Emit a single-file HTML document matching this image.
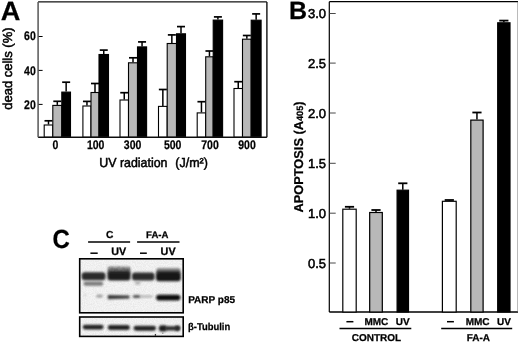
<!DOCTYPE html>
<html><head><meta charset="utf-8"><style>
html,body{margin:0;padding:0;background:#fff;width:520px;height:342px;overflow:hidden}
svg{display:block}
text{font-family:"Liberation Sans", sans-serif;fill:#000;text-rendering:geometricPrecision}
text[font-weight="bold"]{stroke:#000;stroke-width:0.25px}
</style></head><body>
<svg width="520" height="342" viewBox="0 0 520 342">
<defs><filter id="soft" x="0" y="0" width="100%" height="100%"><feGaussianBlur stdDeviation="0.35"/></filter><filter id="bl" x="-20%" y="-50%" width="140%" height="200%"><feGaussianBlur stdDeviation="0.85"/></filter>
<linearGradient id="smear" x1="0" y1="0" x2="0" y2="1"><stop offset="0" stop-color="#9a9a9a"/><stop offset="0.45" stop-color="#707070"/><stop offset="1" stop-color="#404040"/></linearGradient>
<linearGradient id="smear2" x1="0" y1="0" x2="0" y2="1"><stop offset="0" stop-color="#9a9a9a"/><stop offset="0.6" stop-color="#555"/><stop offset="1" stop-color="#2a2a2a"/></linearGradient>
<filter id="noise2" x="0" y="0" width="100%" height="100%"><feTurbulence type="fractalNoise" baseFrequency="0.35" numOctaves="2" seed="7"/><feColorMatrix type="matrix" values="0 0 0 0 0  0 0 0 0 0  0 0 0 0 0  0 0 0 -3 1.8"/><feComposite in2="SourceGraphic" operator="in"/><feGaussianBlur stdDeviation="0.6"/></filter><filter id="noise" x="0" y="0" width="100%" height="100%"><feTurbulence type="fractalNoise" baseFrequency="0.9" numOctaves="2" seed="3"/><feColorMatrix type="matrix" values="0 0 0 0 0  0 0 0 0 0  0 0 0 0 0  0 0 0 -2.2 1.6"/><feComposite in2="SourceGraphic" operator="in"/></filter></defs>
<g filter="url(#soft)">
<text transform="translate(0.8,19.7) scale(1.03,1)" font-size="26.4" font-weight="bold">A</text>
<line x1="38.1" y1="104.4" x2="42.6" y2="104.4" stroke="#000" stroke-width="1"/>
<text transform="translate(35.8,108.55000000000001) scale(0.84,1)" font-size="12.5" font-weight="bold" text-anchor="end">20</text>
<line x1="38.1" y1="70.4" x2="42.6" y2="70.4" stroke="#000" stroke-width="1"/>
<text transform="translate(35.8,74.65) scale(0.84,1)" font-size="12.5" font-weight="bold" text-anchor="end">40</text>
<line x1="38.1" y1="36.5" x2="42.6" y2="36.5" stroke="#000" stroke-width="1"/>
<text transform="translate(35.8,39.75) scale(0.84,1)" font-size="12.5" font-weight="bold" text-anchor="end">60</text>
<text transform="translate(11.9,68.6) rotate(-90)" font-size="13" text-anchor="middle" stroke="#000" stroke-width="0.5">dead cells (%)</text>
<line x1="48.50" y1="124.5" x2="48.50" y2="120.8" stroke="#000" stroke-width="1.5"/>
<line x1="44.50" y1="120.8" x2="52.50" y2="120.8" stroke="#000" stroke-width="1.7"/>
<rect x="44.20" y="125.0" width="8.60" height="12.30" fill="#fff" stroke="#000" stroke-width="1.1"/>
<line x1="57.30" y1="104.9" x2="57.30" y2="101.3" stroke="#000" stroke-width="1.5"/>
<line x1="53.30" y1="101.3" x2="61.30" y2="101.3" stroke="#000" stroke-width="1.7"/>
<rect x="52.80" y="105.4" width="9.00" height="31.90" fill="#b8b8b8" stroke="#000" stroke-width="1.1"/>
<line x1="66.15" y1="91.6" x2="66.15" y2="82.2" stroke="#000" stroke-width="1.5"/>
<line x1="62.15" y1="82.2" x2="70.15" y2="82.2" stroke="#000" stroke-width="1.7"/>
<rect x="61.80" y="92.1" width="8.70" height="45.20" fill="#000" stroke="#000" stroke-width="1.1"/>
<line x1="86.95" y1="105.5" x2="86.95" y2="101.4" stroke="#000" stroke-width="1.5"/>
<line x1="82.95" y1="101.4" x2="90.95" y2="101.4" stroke="#000" stroke-width="1.7"/>
<rect x="82.90" y="106.0" width="8.10" height="31.30" fill="#fff" stroke="#000" stroke-width="1.1"/>
<line x1="95.00" y1="92" x2="95.00" y2="83.5" stroke="#000" stroke-width="1.5"/>
<line x1="91.00" y1="83.5" x2="99.00" y2="83.5" stroke="#000" stroke-width="1.7"/>
<rect x="91.00" y="92.5" width="8.00" height="44.80" fill="#b8b8b8" stroke="#000" stroke-width="1.1"/>
<line x1="103.75" y1="54" x2="103.75" y2="50.1" stroke="#000" stroke-width="1.5"/>
<line x1="99.75" y1="50.1" x2="107.75" y2="50.1" stroke="#000" stroke-width="1.7"/>
<rect x="99.00" y="54.5" width="9.50" height="82.80" fill="#000" stroke="#000" stroke-width="1.1"/>
<line x1="124.25" y1="99.5" x2="124.25" y2="92.7" stroke="#000" stroke-width="1.5"/>
<line x1="120.25" y1="92.7" x2="128.25" y2="92.7" stroke="#000" stroke-width="1.7"/>
<rect x="120.00" y="100.0" width="8.50" height="37.30" fill="#fff" stroke="#000" stroke-width="1.1"/>
<line x1="133.00" y1="62.3" x2="133.00" y2="57.8" stroke="#000" stroke-width="1.5"/>
<line x1="129.00" y1="57.8" x2="137.00" y2="57.8" stroke="#000" stroke-width="1.7"/>
<rect x="128.50" y="62.8" width="9.00" height="74.50" fill="#b8b8b8" stroke="#000" stroke-width="1.1"/>
<line x1="142.05" y1="46.4" x2="142.05" y2="41.9" stroke="#000" stroke-width="1.5"/>
<line x1="138.05" y1="41.9" x2="146.05" y2="41.9" stroke="#000" stroke-width="1.7"/>
<rect x="137.50" y="46.9" width="9.10" height="90.40" fill="#000" stroke="#000" stroke-width="1.1"/>
<line x1="162.85" y1="105.9" x2="162.85" y2="89.5" stroke="#000" stroke-width="1.5"/>
<line x1="158.85" y1="89.5" x2="166.85" y2="89.5" stroke="#000" stroke-width="1.7"/>
<rect x="158.50" y="106.4" width="8.70" height="30.90" fill="#fff" stroke="#000" stroke-width="1.1"/>
<line x1="171.85" y1="43" x2="171.85" y2="34.9" stroke="#000" stroke-width="1.5"/>
<line x1="167.85" y1="34.9" x2="175.85" y2="34.9" stroke="#000" stroke-width="1.7"/>
<rect x="167.20" y="43.5" width="9.30" height="93.80" fill="#b8b8b8" stroke="#000" stroke-width="1.1"/>
<line x1="181.00" y1="33.3" x2="181.00" y2="26.6" stroke="#000" stroke-width="1.5"/>
<line x1="177.00" y1="26.6" x2="185.00" y2="26.6" stroke="#000" stroke-width="1.7"/>
<rect x="176.50" y="33.8" width="9.00" height="103.50" fill="#000" stroke="#000" stroke-width="1.1"/>
<line x1="201.45" y1="112.4" x2="201.45" y2="101.7" stroke="#000" stroke-width="1.5"/>
<line x1="197.45" y1="101.7" x2="205.45" y2="101.7" stroke="#000" stroke-width="1.7"/>
<rect x="197.20" y="112.9" width="8.50" height="24.40" fill="#fff" stroke="#000" stroke-width="1.1"/>
<line x1="209.45" y1="56.3" x2="209.45" y2="51" stroke="#000" stroke-width="1.5"/>
<line x1="205.45" y1="51" x2="213.45" y2="51" stroke="#000" stroke-width="1.7"/>
<rect x="205.70" y="56.8" width="7.50" height="80.50" fill="#b8b8b8" stroke="#000" stroke-width="1.1"/>
<line x1="217.90" y1="19.6" x2="217.90" y2="16.9" stroke="#000" stroke-width="1.5"/>
<line x1="213.90" y1="16.9" x2="221.90" y2="16.9" stroke="#000" stroke-width="1.7"/>
<rect x="213.20" y="20.1" width="9.40" height="117.20" fill="#000" stroke="#000" stroke-width="1.1"/>
<line x1="238.25" y1="88" x2="238.25" y2="81.7" stroke="#000" stroke-width="1.5"/>
<line x1="234.25" y1="81.7" x2="242.25" y2="81.7" stroke="#000" stroke-width="1.7"/>
<rect x="234.00" y="88.5" width="8.50" height="48.80" fill="#fff" stroke="#000" stroke-width="1.1"/>
<line x1="246.85" y1="38.7" x2="246.85" y2="35.5" stroke="#000" stroke-width="1.5"/>
<line x1="242.85" y1="35.5" x2="250.85" y2="35.5" stroke="#000" stroke-width="1.7"/>
<rect x="242.50" y="39.2" width="8.70" height="98.10" fill="#b8b8b8" stroke="#000" stroke-width="1.1"/>
<line x1="256.15" y1="19.7" x2="256.15" y2="13.9" stroke="#000" stroke-width="1.5"/>
<line x1="252.15" y1="13.9" x2="260.15" y2="13.9" stroke="#000" stroke-width="1.7"/>
<rect x="251.20" y="20.2" width="9.90" height="117.10" fill="#000" stroke="#000" stroke-width="1.1"/>
<line x1="38.1" y1="1.9" x2="266.9" y2="1.9" stroke="#111" stroke-width="1.4"/>
<line x1="266.9" y1="1.9" x2="266.9" y2="137.3" stroke="#111" stroke-width="1.4"/>
<line x1="38.1" y1="137.3" x2="266.9" y2="137.3" stroke="#111" stroke-width="1.4"/>
<line x1="38.1" y1="1.9" x2="38.1" y2="137.3" stroke="#555" stroke-width="1.5"/>
<text transform="translate(55.4,149.3) scale(0.84,1)" font-size="12.5" font-weight="bold" text-anchor="middle">0</text>
<text transform="translate(95.7,149.3) scale(0.84,1)" font-size="12.5" font-weight="bold" text-anchor="middle">100</text>
<text transform="translate(132.6,149.3) scale(0.84,1)" font-size="12.5" font-weight="bold" text-anchor="middle">300</text>
<text transform="translate(172.7,149.3) scale(0.84,1)" font-size="12.5" font-weight="bold" text-anchor="middle">500</text>
<text transform="translate(210,149.3) scale(0.84,1)" font-size="12.5" font-weight="bold" text-anchor="middle">700</text>
<text transform="translate(247,149.3) scale(0.84,1)" font-size="12.5" font-weight="bold" text-anchor="middle">900</text>
<text x="99.3" y="167.2" font-size="13" textLength="68.2" lengthAdjust="spacingAndGlyphs" stroke="#000" stroke-width="0.5">UV radiation</text>
<text x="175.3" y="167.2" font-size="13" textLength="32.6" lengthAdjust="spacingAndGlyphs" stroke="#000" stroke-width="0.5">(J/m²)</text>
<text x="289" y="19.1" font-size="25" font-weight="bold">B</text>
<line x1="329.3" y1="1.7" x2="518" y2="1.7" stroke="#000" stroke-width="1.2"/>
<line x1="329.3" y1="1.7" x2="329.3" y2="312" stroke="#000" stroke-width="1.2"/>
<line x1="329.3" y1="312" x2="518" y2="312" stroke="#000" stroke-width="1.4"/>
<line x1="518" y1="1.7" x2="518" y2="312" stroke="#666" stroke-width="0.9"/>
<line x1="329.3" y1="13.5" x2="335.7" y2="13.5" stroke="#333" stroke-width="0.9"/>
<text x="326" y="18.2" font-size="13" text-anchor="end" stroke="#000" stroke-width="0.55">3.0</text>
<line x1="329.3" y1="63.1" x2="335.7" y2="63.1" stroke="#333" stroke-width="0.9"/>
<text x="326" y="67.8" font-size="13" text-anchor="end" stroke="#000" stroke-width="0.55">2.5</text>
<line x1="329.3" y1="113.0" x2="335.7" y2="113.0" stroke="#333" stroke-width="0.9"/>
<text x="326" y="117.7" font-size="13" text-anchor="end" stroke="#000" stroke-width="0.55">2.0</text>
<line x1="329.3" y1="163.3" x2="335.7" y2="163.3" stroke="#333" stroke-width="0.9"/>
<text x="326" y="168.0" font-size="13" text-anchor="end" stroke="#000" stroke-width="0.55">1.5</text>
<line x1="329.3" y1="213.2" x2="335.7" y2="213.2" stroke="#333" stroke-width="0.9"/>
<text x="326" y="217.89999999999998" font-size="13" text-anchor="end" stroke="#000" stroke-width="0.55">1.0</text>
<line x1="329.3" y1="263.0" x2="335.7" y2="263.0" stroke="#333" stroke-width="0.9"/>
<text x="326" y="267.7" font-size="13" text-anchor="end" stroke="#000" stroke-width="0.55">0.5</text>
<text transform="translate(302.9,212.5) rotate(-90)" font-size="12.8" font-weight="bold">APOPTOSIS (A<tspan font-size="9.2" dy="0">405</tspan>)</text>
<line x1="349.5" y1="208.7" x2="349.5" y2="206.8" stroke="#000" stroke-width="1.5"/>
<line x1="344.9" y1="206.8" x2="354.1" y2="206.8" stroke="#000" stroke-width="1.8"/>
<rect x="342.8" y="209.2" width="13.40" height="102.80" fill="#fff" stroke="#000" stroke-width="1.2"/>
<line x1="376.0" y1="212.0" x2="376.0" y2="210.0" stroke="#000" stroke-width="1.5"/>
<line x1="371.4" y1="210.0" x2="380.6" y2="210.0" stroke="#000" stroke-width="1.8"/>
<rect x="369.70000000000005" y="212.5" width="12.60" height="99.50" fill="#b8b8b8" stroke="#000" stroke-width="1.2"/>
<line x1="402.8" y1="189.7" x2="402.8" y2="183.3" stroke="#000" stroke-width="1.5"/>
<line x1="398.2" y1="183.3" x2="407.40000000000003" y2="183.3" stroke="#000" stroke-width="1.8"/>
<rect x="397.1" y="190.2" width="11.40" height="121.80" fill="#000" stroke="#000" stroke-width="1.2"/>
<line x1="449.3" y1="200.8" x2="449.3" y2="200.0" stroke="#000" stroke-width="1.5"/>
<line x1="444.7" y1="200.0" x2="453.90000000000003" y2="200.0" stroke="#000" stroke-width="1.8"/>
<rect x="442.40000000000003" y="201.3" width="13.80" height="110.70" fill="#fff" stroke="#000" stroke-width="1.2"/>
<line x1="476.95" y1="119.6" x2="476.95" y2="112.5" stroke="#000" stroke-width="1.5"/>
<line x1="472.34999999999997" y1="112.5" x2="481.55" y2="112.5" stroke="#000" stroke-width="1.8"/>
<rect x="470.8" y="120.1" width="12.30" height="191.90" fill="#b8b8b8" stroke="#000" stroke-width="1.2"/>
<line x1="503.85" y1="22.3" x2="503.85" y2="20.6" stroke="#000" stroke-width="1.5"/>
<line x1="499.25" y1="20.6" x2="508.45000000000005" y2="20.6" stroke="#000" stroke-width="1.8"/>
<rect x="497.70000000000005" y="22.8" width="12.30" height="289.20" fill="#000" stroke="#000" stroke-width="1.2"/>
<text x="376.4" y="325.1" font-size="10" font-weight="bold" text-anchor="middle">MMC</text>
<text x="402.65" y="325.1" font-size="10" font-weight="bold" text-anchor="middle">UV</text>
<text x="477.6" y="325.1" font-size="10" font-weight="bold" text-anchor="middle">MMC</text>
<text x="504.05" y="325.1" font-size="10" font-weight="bold" text-anchor="middle">UV</text>
<line x1="346.4" y1="321.7" x2="353.4" y2="321.7" stroke="#000" stroke-width="1.5"/>
<line x1="447" y1="321.7" x2="453.9" y2="321.7" stroke="#000" stroke-width="1.5"/>
<line x1="339.5" y1="328.5" x2="411.3" y2="328.5" stroke="#000" stroke-width="1.3"/>
<line x1="441.2" y1="328.5" x2="512.2" y2="328.5" stroke="#000" stroke-width="1.3"/>
<text x="376.5" y="341.4" font-size="10" font-weight="bold" text-anchor="middle">CONTROL</text>
<text x="478.4" y="341.4" font-size="10" font-weight="bold" text-anchor="middle">FA-A</text>
<text transform="translate(52.4,248.3) scale(0.91,1)" font-size="26.3" font-weight="bold">C</text>
<text x="109.7" y="237.9" font-size="10.2" font-weight="bold" text-anchor="middle">C</text>
<text x="157.3" y="237.7" font-size="9.6" font-weight="bold" text-anchor="middle">FA-A</text>
<line x1="88.1" y1="242" x2="130.1" y2="242" stroke="#000" stroke-width="1.4"/>
<line x1="137.1" y1="242" x2="179.5" y2="242" stroke="#000" stroke-width="1.4"/>
<text x="118.8" y="254.8" font-size="10.8" font-weight="bold" text-anchor="middle">UV</text>
<text x="168.1" y="254.8" font-size="10.8" font-weight="bold" text-anchor="middle">UV</text>
<line x1="90.4" y1="253.2" x2="97.7" y2="253.2" stroke="#000" stroke-width="1.5"/>
<line x1="140" y1="253.2" x2="146.8" y2="253.2" stroke="#000" stroke-width="1.5"/>
<rect x="79.7" y="258.8" width="103.5" height="54" fill="#f6f6f6"/>
<rect x="79.7" y="317" width="103.5" height="19.4" fill="#f6f6f6"/>
<rect x="79.7" y="258.8" width="103.5" height="54" fill="#000" opacity="0.05" filter="url(#noise)"/>
<rect x="79.7" y="317" width="103.5" height="19.4" fill="#000" opacity="0.05" filter="url(#noise)"/>
<rect x="81.6" y="272.3" width="23.900000000000006" height="7.899999999999977" rx="3" fill="#2a2a2a" opacity="1" filter="url(#bl)"/>
<rect x="83.4" y="281.6" width="19.799999999999997" height="4.199999999999989" rx="2.0999999999999943" fill="#7a7a7a" opacity="1" filter="url(#bl)"/>
<rect x="107.6" y="266.4" width="22.8" height="7.8" rx="2" fill="url(#smear)" filter="url(#bl)"/>
<rect x="108" y="266.4" width="22" height="7.8" fill="#000" opacity="0.12" filter="url(#noise2)"/>
<rect x="107.5" y="271.6" width="23.0" height="8.899999999999977" rx="3" fill="#1e1e1e" opacity="1" filter="url(#bl)"/>
<rect x="132.0" y="272.6" width="22.599999999999994" height="7.899999999999977" rx="3" fill="#2c2c2c" opacity="1" filter="url(#bl)"/>
<rect x="135" y="281.6" width="5.5" height="2.7999999999999545" rx="1.3999999999999773" fill="#aaa" opacity="1" filter="url(#bl)"/>
<rect x="156.4" y="268.0" width="24" height="6.3" rx="2" fill="url(#smear2)" filter="url(#bl)"/>
<rect x="156.0" y="272.0" width="24.80000000000001" height="9.300000000000011" rx="3" fill="#181818" opacity="1" filter="url(#bl)"/>
<rect x="83.8" y="294.5" width="2.5" height="1.5" rx="0.75" fill="#bbb" opacity="1" filter="url(#bl)"/>
<rect x="96.3" y="294.8" width="6.5" height="2.599999999999966" rx="1.299999999999983" fill="#999" opacity="1" filter="url(#bl)"/>
<path d="M107.8 294.9 L129.4 295.4 L129.4 298.5 L107.8 299.2 Z" fill="#3a3a3a" filter="url(#bl)"/>
<rect x="132.8" y="295" width="7.699999999999989" height="3.1000000000000227" rx="1.5500000000000114" fill="#555" opacity="1" filter="url(#bl)"/>
<rect x="140" y="295.4" width="12.599999999999994" height="2.2000000000000455" rx="1.1000000000000227" fill="#aaa" opacity="1" filter="url(#bl)"/>
<rect x="156.1" y="294.7" width="24.30000000000001" height="5.699999999999989" rx="2.8499999999999943" fill="#0e0e0e" opacity="1" filter="url(#bl)"/>
<rect x="82.7" y="324.7" width="20.89999999999999" height="4.699999999999989" rx="2.3499999999999943" fill="#222" opacity="1" filter="url(#bl)"/>
<rect x="107.8" y="325.0" width="22.000000000000014" height="5.0" rx="2.5" fill="#222" opacity="1" filter="url(#bl)"/>
<rect x="133.6" y="325.8" width="22.400000000000006" height="4.899999999999977" rx="2.4499999999999886" fill="#222" opacity="1" filter="url(#bl)"/>
<rect x="158.8" y="325.2" width="8.199999999999989" height="6.400000000000034" rx="3" fill="#1e1e1e" opacity="1" filter="url(#bl)"/>
<rect x="165" y="326.2" width="15" height="4.199999999999989" rx="2.0999999999999943" fill="#2a2a2a" opacity="1" filter="url(#bl)"/>
<rect x="175" y="325.6" width="5" height="5.199999999999989" rx="2.5999999999999943" fill="#2a2a2a" opacity="1" filter="url(#bl)"/>
<circle cx="155.4" cy="334.9" r="0.8" fill="#222"/>
<circle cx="162.8" cy="333.2" r="0.7" fill="#888"/>
<rect x="79.7" y="258.8" width="103.5" height="54" fill="none" stroke="#000" stroke-width="1.6"/>
<rect x="79.7" y="317" width="103.5" height="19.4" fill="none" stroke="#000" stroke-width="1.6"/>
<text x="188.2" y="302.8" font-size="10" font-weight="bold">PARP p85</text>
<text x="188.0" y="330.1" font-size="10" font-weight="bold" textLength="42.2" lengthAdjust="spacingAndGlyphs">β-Tubulin</text>
</g>
</svg>
</body></html>
